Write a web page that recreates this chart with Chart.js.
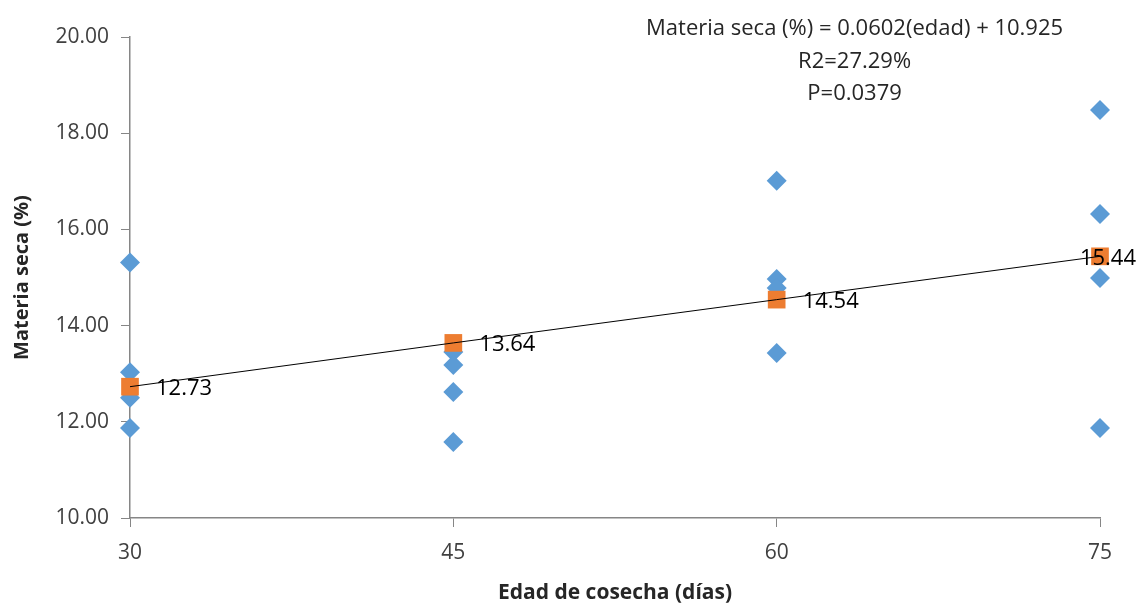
<!DOCTYPE html>
<html>
<head>
<meta charset="utf-8">
<script src="https://cdn.jsdelivr.net/npm/chart.js@4/dist/chart.umd.min.js"></script>
<style>
    html, body { margin: 0; padding: 0; background: #ffffff; }
    #wrap { width: 1136px; height: 606px; position: relative; }
</style>
</head>
<body>
<div id="wrap"><canvas id="msChart"></canvas></div>
<script>
// observed values (días, materia seca %)
const obsEdad = [30, 30, 30, 30, 45, 45, 45, 45, 60, 60, 60, 60, 75, 75, 75, 75];
const obsMS = [15.31, 13.03, 12.50, 11.87, 13.45, 13.18, 12.62, 11.58, 17.01, 14.97, 14.78, 13.43, 18.48, 16.32, 14.99, 11.87];

// fitted values shown as orange squares
const edadCats = [30, 45, 60, 75];
const fitMS = [12.73, 13.64, 14.54, 15.44];

const yTicks = [10, 12, 14, 16, 18, 20];
const eqLines = ["Materia seca (%) = 0.0602(edad) + 10.925", "R2=27.29%", "P=0.0379"];

const FONT = "'Open Sans', 'Noto Sans', sans-serif";
const axisGray = "#868686";

const obsPoints = obsEdad.map((e, i) => ({ x: e, y: obsMS[i] }));
const fitPoints = edadCats.map((e, i) => ({ x: e, y: fitMS[i] }));

// labels next to the fitted points
const fitLabels = {
    id: "fitLabels",
    afterDatasetsDraw(chart) {
        const ctx = chart.ctx;
        const meta = chart.getDatasetMeta(1);
        ctx.save();
        ctx.font = "22px " + FONT;
        ctx.fillStyle = "#000000";
        ctx.textBaseline = "middle";
        meta.data.forEach((pt, i) => {
            const txt = fitMS[i].toFixed(2);
            const w = ctx.measureText(txt).width;
            let x = pt.x + 26;
            if (x + w > chart.width) x = chart.width - w;
            ctx.fillText(txt, x, pt.y + 2);
        });
        ctx.restore();
    }
};

// regression equation in the top right
const equationText = {
    id: "equationText",
    afterDraw(chart) {
        const ctx = chart.ctx;
        const area = chart.chartArea;
        ctx.save();
        ctx.font = "22px " + FONT;
        ctx.fillStyle = "#262626";
        ctx.textAlign = "center";
        ctx.textBaseline = "middle";
        const cx = area.left + (area.right - area.left) * 0.747;
        eqLines.forEach((line, i) => {
            ctx.fillText(line, cx, 29 + i * 32.5);
        });
        ctx.restore();
    }
};

new Chart(document.getElementById("msChart"), {
    type: "scatter",
    data: {
        datasets: [
            {
                type: "line",
                label: "Tendencia",
                data: fitPoints,
                borderColor: "#000000",
                borderWidth: 1,
                pointRadius: 0,
                fill: false,
                tension: 0,
                clip: false
            },
            {
                label: "Ajustado",
                data: fitPoints,
                pointStyle: "rect",
                pointRadius: 12.5,
                pointHoverRadius: 12.5,
                backgroundColor: "#ED7D31",
                borderColor: "#ED7D31",
                borderWidth: 0,
                clip: false
            },
            {
                label: "Materia seca",
                data: obsPoints,
                pointStyle: "rectRot",
                pointRadius: 10,
                pointHoverRadius: 10,
                backgroundColor: "#5B9BD5",
                borderColor: "#5B9BD5",
                borderWidth: 0,
                clip: false
            }
        ]
    },
    options: {
        responsive: true,
        maintainAspectRatio: false,
        animation: false,
        layout: {
            padding: { top: 37, right: 36, left: 0, bottom: 0 }
        },
        plugins: {
            legend: { display: false },
            tooltip: { enabled: false }
        },
        scales: {
            x: {
                type: "linear",
                min: 30,
                max: 75,
                afterBuildTicks: (scale) => {
                    scale.ticks = edadCats.map(v => ({ value: v }));
                },
                afterFit: (scale) => { scale.height = 88; },
                ticks: {
                    color: "#404040",
                    font: { family: FONT, size: 21 },
                    padding: 13,
                    maxRotation: 0
                },
                grid: {
                    display: true,
                    drawOnChartArea: false,
                    drawTicks: true,
                    tickLength: 9,
                    color: axisGray
                },
                border: { color: axisGray, width: 1.5 },
                title: {
                    display: true,
                    text: "Edad de cosecha (días)",
                    color: "#262626",
                    font: { family: FONT, size: 21, weight: "bold" },
                    padding: { top: 2, bottom: 0 }
                }
            },
            y: {
                min: 10,
                max: 20,
                afterBuildTicks: (scale) => {
                    scale.ticks = yTicks.map(v => ({ value: v }));
                },
                afterFit: (scale) => { scale.width = 130; },
                ticks: {
                    color: "#404040",
                    font: { family: FONT, size: 21 },
                    padding: 12,
                    callback: (v) => Number(v).toFixed(2)
                },
                grid: {
                    display: true,
                    drawOnChartArea: false,
                    drawTicks: true,
                    tickLength: 9,
                    color: axisGray
                },
                border: { color: axisGray, width: 1.5 },
                title: {
                    display: true,
                    text: "Materia seca (%)",
                    color: "#262626",
                    font: { family: FONT, size: 20, weight: "bold" },
                    padding: { top: 10, bottom: 4 }
                }
            }
        }
    },
    plugins: [fitLabels, equationText]
});
</script>
</body>
</html>
